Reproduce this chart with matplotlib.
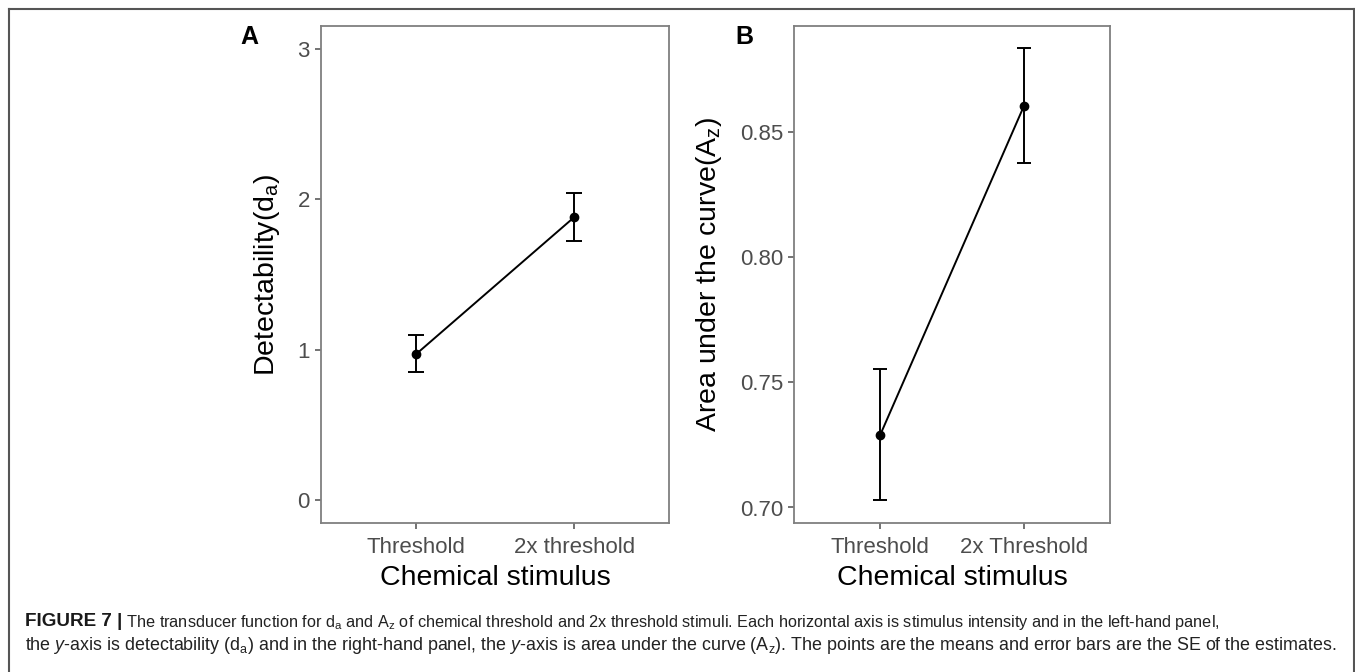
import matplotlib
matplotlib.use("Agg")
import matplotlib.pyplot as plt
from matplotlib.lines import Line2D

# ---- data ----
categories_a = ["Threshold", "2x threshold"]
da_means = [0.97, 1.88]
da_se_low = [0.85, 1.72]
da_se_high = [1.10, 2.04]

categories_b = ["Threshold", "2x Threshold"]
az_means = [0.729, 0.8605]
az_se_low = [0.7028, 0.8376]
az_se_high = [0.7553, 0.8836]

yticks_a = [0, 1, 2, 3]
yticks_b = [0.70, 0.75, 0.80, 0.85]
yticklabels_b = ["0.70", "0.75", "0.80", "0.85"]

W, H = 1355, 672
plt.rcParams['font.family'] = ['Liberation Sans', 'DejaVu Sans']
plt.rcParams['mathtext.fontset'] = 'custom'
plt.rcParams['mathtext.rm'] = 'Liberation Sans'
plt.rcParams['mathtext.bf'] = 'Liberation Sans:bold'
plt.rcParams['mathtext.it'] = 'Liberation Sans:italic'

fig = plt.figure(figsize=(W / 100, H / 100), dpi=100)


def px_axes(left, right, top, bottom):
    return fig.add_axes([left / W, (H - bottom) / H, (right - left) / W, (bottom - top) / H])


def style(ax):
    for s in ax.spines.values():
        s.set_color('#7f7f7f')
        s.set_linewidth(1.3)
    ax.tick_params(axis='both', colors='#4d4d4d', labelcolor='#4d4d4d',
                   labelsize=16, length=4, width=1.1, pad=4)
    ax.tick_params(axis='x', pad=6)


def draw(ax, means, lo, hi, cats, capsize):
    x = list(range(1, len(means) + 1))
    yerr = [[m - l for m, l in zip(means, lo)], [h - m for m, h in zip(means, hi)]]
    ax.errorbar(x, means, yerr=yerr, fmt='none', ecolor='black', elinewidth=1.4,
                capsize=capsize, capthick=1.4)
    ax.plot(x, means, color='black', lw=1.4, marker='o', markersize=6)
    ax.set_xlim(0.4, len(means) + 0.6)
    ax.set_xticks(x)
    ax.set_xticklabels(cats)


# Panel A
axA = px_axes(321, 669, 26, 523)
draw(axA, da_means, da_se_low, da_se_high, categories_a, 6)
axA.set_ylim(-0.15, 3.15)
axA.set_yticks(yticks_a)
style(axA)
axA.set_xlabel('Chemical stimulus', fontsize=20.5, labelpad=5)
axA.set_ylabel(r'Detectability$\mathregular{(d_a)}$', fontsize=20.5, labelpad=11)

# Panel B
axB = px_axes(794, 1110, 26, 523)
draw(axB, az_means, az_se_low, az_se_high, categories_b, 5)
axB.set_ylim(0.6938, 0.8926)
axB.set_yticks(yticks_b)
axB.set_yticklabels(yticklabels_b)
style(axB)
axB.set_xlabel('Chemical stimulus', fontsize=20.5, labelpad=5)
axB.set_ylabel(r'Area under the curve$\mathregular{(A_z)}$', fontsize=20.5, labelpad=11)

fig.text(240 / W, 1 - 37 / H, 'A', fontsize=18, fontweight='bold', va='center', ha='left')
fig.text(735 / W, 1 - 37 / H, 'B', fontsize=18, fontweight='bold', va='center', ha='left')

# outer frame
frame_kw = dict(color='#555555', lw=1.5, transform=fig.transFigure)
fig.add_artist(Line2D([9 / W, 1354 / W], [1 - 8.5 / H, 1 - 8.5 / H], **frame_kw))
fig.add_artist(Line2D([9 / W, 9 / W], [1 - 8.5 / H, 0], **frame_kw))
fig.add_artist(Line2D([1354 / W, 1354 / W], [1 - 8.5 / H, 0], **frame_kw))

# caption
bold_part = 'FIGURE 7 |'
line1 = (r' The transducer function for d$_\mathregular{a}$ and A$_\mathregular{z}$ '
         'of chemical threshold and 2x threshold stimuli. Each horizontal axis is stimulus intensity '
         'and in the left-hand panel,')
line2 = (r'the $\mathit{y}$-axis is detectability (d$_\mathregular{a}$) and in the right-hand panel, '
         r'the $\mathit{y}$-axis is area under the curve (A$_\mathregular{z}$). '
         'The points are the means and error bars are the SE of the estimates.')
tb = fig.text(25 / W, 1 - 622 / H, bold_part, fontsize=13.6, fontweight='bold',
              va='center', ha='left', color='#1a1a1a')
fig.canvas.draw()
ext = tb.get_window_extent()
fig.text(ext.x1 / W, 1 - 622 / H, line1, fontsize=11.7, va='center', ha='left', color='#222222')
fig.text(25 / W, 1 - 645 / H, line2, fontsize=12.9, va='center', ha='left', color='#222222')

fig.savefig('out.png', dpi=100)
